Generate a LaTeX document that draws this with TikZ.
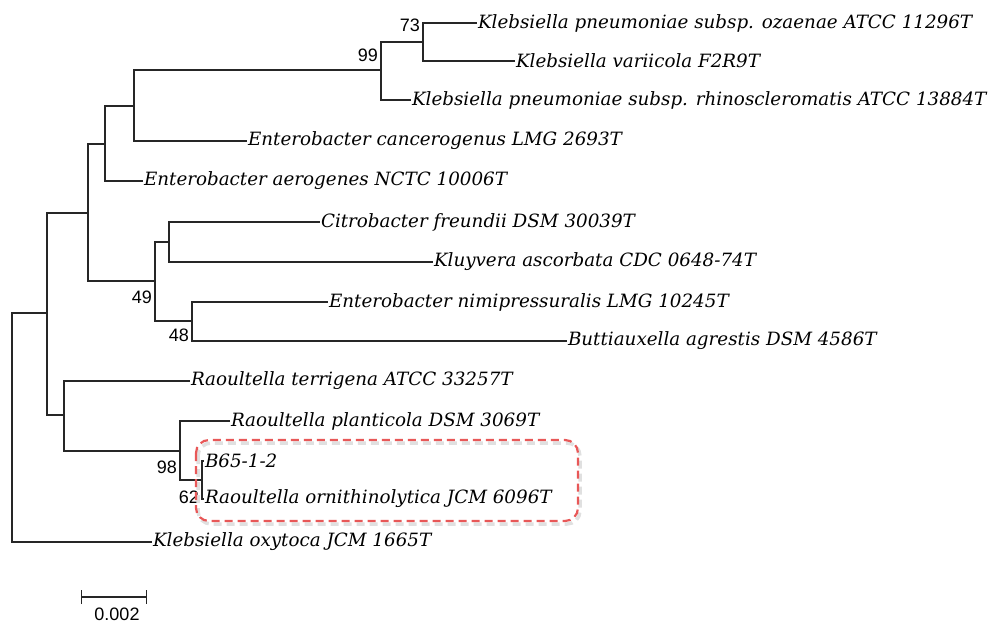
\documentclass[tikz,border=0pt]{standalone}
\usepackage{fontspec}
\setmainfont{DejaVu Serif}
\newfontfamily\numfont{Liberation Sans}
\usetikzlibrary{arrows.meta, positioning}
\definecolor{boxred}{RGB}{232,88,88}

\begin{document}
\begin{tikzpicture}[
    x=1pt, y=-1pt,
    branch/.style={line width=1.6pt, black!85},
    taxon/.style={anchor=west, inner sep=1pt, outer sep=0pt,
        font=\fontsize{18.3}{21}\selectfont\itshape},
    boot/.style={anchor=east, inner sep=1pt,
        font=\numfont\fontsize{18}{20}\selectfont},
]
\useasboundingbox (0,0) rectangle (989,626);

% Taxa (each one at the end of its branch)
\node[taxon] (ozaenae) at (477,23) {Klebsiella pneumoniae subsp. ozaenae ATCC 11296T};
\node[taxon] (variicola) at (515,61) {Klebsiella variicola F2R9T};
\node[taxon] (rhino) at (411,100) {Klebsiella pneumoniae subsp. rhinoscleromatis ATCC 13884T};
\node[taxon] (cancero) at (247,141) {Enterobacter cancerogenus LMG 2693T};
\node[taxon] (aerogenes) at (143,181) {Enterobacter aerogenes NCTC 10006T};
\node[taxon] (citro) at (320,222) {Citrobacter freundii DSM 30039T};
\node[taxon] (kluyvera) at (433,262) {Kluyvera ascorbata CDC 0648-74T};
\node[taxon] (nimi) at (328,302) {Enterobacter nimipressuralis LMG 10245T};
\node[taxon] (butti) at (567,341) {Buttiauxella agrestis DSM 4586T};
\node[taxon] (terrigena) at (190,381) {Raoultella terrigena ATCC 33257T};
\node[taxon] (planti) at (230,421) {Raoultella planticola DSM 3069T};
\node[taxon] (b65) at (204,461) {B65-1-2};
\node[taxon] (ornith) at (204,499) {Raoultella ornithinolytica JCM 6096T};
\node[taxon] (oxytoca) at (152,542) {Klebsiella oxytoca JCM 1665T};

% Internal nodes
\coordinate (n73) at (423,42);
\coordinate (n99) at (381,70);
\coordinate (nA) at (134,106);
\coordinate (nB) at (105,144);
\coordinate (nC) at (88,213);
\coordinate (nI) at (169,242);
\coordinate (nJ) at (192,321);
\coordinate (nH) at (155,281);
\coordinate (nG) at (202,480);
\coordinate (nF) at (180,451);
\coordinate (nE) at (64,415);
\coordinate (nD) at (47,313);
\coordinate (root) at (12,427);

% Branches
\draw[branch] (n73) |- (ozaenae.west);
\draw[branch] (n73) |- (variicola.west);
\draw[branch] (n99) |- (n73);
\draw[branch] (n99) |- (rhino.west);
\draw[branch] (nA) |- (n99);
\draw[branch] (nA) |- (cancero.west);
\draw[branch] (nB) |- (nA);
\draw[branch] (nB) |- (aerogenes.west);
\draw[branch] (nI) |- (citro.west);
\draw[branch] (nI) |- (kluyvera.west);
\draw[branch] (nJ) |- (nimi.west);
\draw[branch] (nJ) |- (butti.west);
\draw[branch] (nH) |- (nI);
\draw[branch] (nH) |- (nJ);
\draw[branch] (nC) |- (nB);
\draw[branch] (nC) |- (nH);
\draw[branch] (nG) |- (b65.west);
\draw[branch] (nG) |- (ornith.west);
\draw[branch] (nF) |- (planti.west);
\draw[branch] (nF) |- (nG);
\draw[branch] (nE) |- (terrigena.west);
\draw[branch] (nE) |- (nF);
\draw[branch] (nD) |- (nC);
\draw[branch] (nD) |- (nE);
\draw[branch] (root) |- (nD);
\draw[branch] (root) |- (oxytoca.west);

% Bootstrap values
\node[boot] (b73) at (421,25) {73};
\node[boot] (b99) at (379,55) {99};
\node[boot] (b49) at (153,297) {49};
\node[boot] (b48) at (190,335) {48};
\node[boot] (b98) at (178,467) {98};
\node[boot] (b62) at (200,497) {62};

% Highlight box round the isolate
\draw[black!12, line width=3.5pt, dash pattern=on 8pt off 5pt, rounded corners=13pt]
    (198,443) rectangle (580,524);
\draw[boxred, line width=2.2pt, dash pattern=on 8pt off 5pt, rounded corners=13pt]
    (196,440) rectangle (578,521);

% Scale bar
\coordinate (sbl) at (81,597);
\coordinate (sbr) at (147,597);
\draw[branch, line width=1.3pt, {Bar[width=14pt]}-{Bar[width=14pt]}] (sbl) -- (sbr);
\node[font=\numfont\fontsize{18}{20}\selectfont, inner sep=1pt] (sbtext) at (117,614) {0.002};

\end{tikzpicture}
\end{document}
